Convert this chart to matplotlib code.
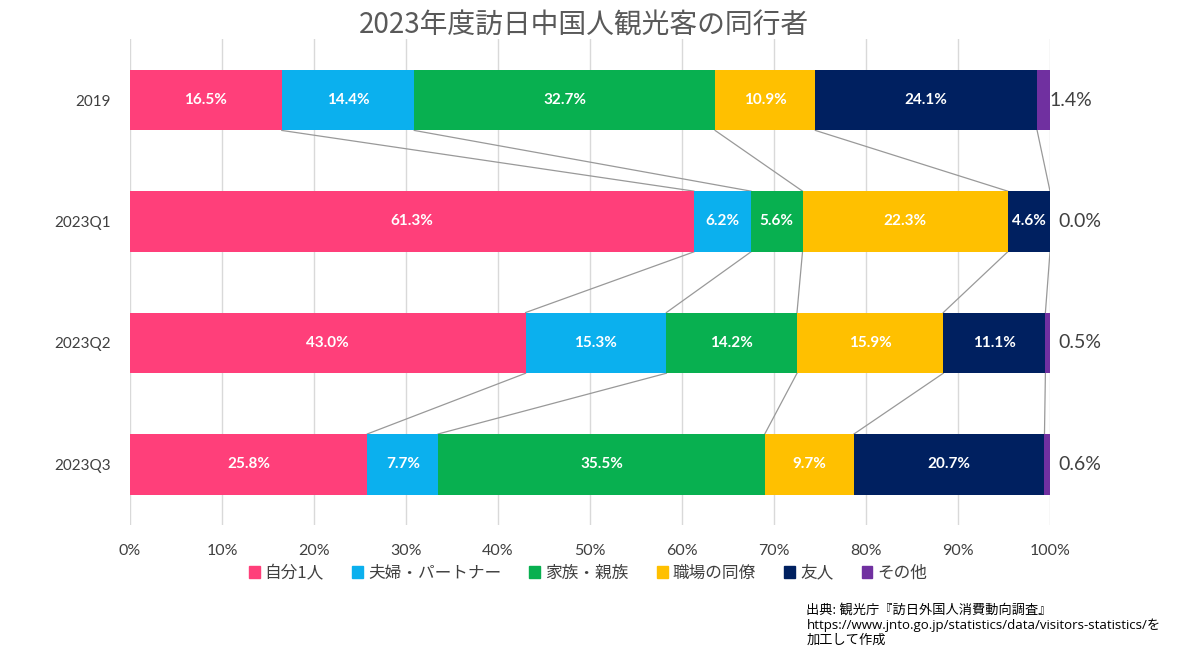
import matplotlib.pyplot as plt
import numpy as np

plt.rcParams['font.family'] = ['Lato', 'Noto Sans CJK JP', 'DejaVu Sans']

periods = ['2019', '2023Q1', '2023Q2', '2023Q3']
categories = ['自分1人', '夫婦・パートナー', '家族・親族', '職場の同僚', '友人', 'その他']
shares = {
    '自分1人':        [16.5, 61.3, 43.0, 25.8],
    '夫婦・パートナー': [14.4, 6.2, 15.3, 7.7],
    '家族・親族':      [32.7, 5.6, 14.2, 35.5],
    '職場の同僚':      [10.9, 22.3, 15.9, 9.7],
    '友人':           [24.1, 4.6, 11.1, 20.7],
    'その他':         [1.4, 0.0, 0.5, 0.6],
}
colors = ['#FF3F7A', '#0BB0EE', '#08B050', '#FFC000', '#002060', '#7030A0']

fig = plt.figure(figsize=(12, 6.5), dpi=100)
ax = fig.add_axes([0.1083, 0.1923, 0.7667, 0.7471])

y = np.arange(len(periods))
bar_h = 0.5
left = np.zeros(len(periods))
bounds = []
for cat, col in zip(categories, colors):
    vals = np.array(shares[cat])
    ax.barh(y, vals, left=left, height=bar_h, color=col, zorder=3)
    for i, v in enumerate(vals):
        if cat == 'その他':
            ax.text(99.9 if v > 1 else 100.9, y[i], f'{v:.1f}%', va='center', ha='left',
                    fontsize=14, color='#404040', zorder=5)
        else:
            ax.text(left[i] + v / 2, y[i], f'{v:.1f}%', va='center', ha='center',
                    fontsize=11, color='white', fontweight='bold', zorder=5)
    left = left + vals
    bounds.append(left.copy())

# series lines between bars
for b in bounds[:-1]:
    for i in range(len(periods) - 1):
        ax.plot([b[i], b[i + 1]], [y[i] + bar_h / 2, y[i + 1] - bar_h / 2],
                color='#999999', lw=0.9, zorder=2)

ax.set_xlim(0, 100)
ax.set_ylim(len(periods) - 0.5, -0.5)
ax.set_yticks(y)
ax.set_yticklabels(periods, fontsize=11, color='#404040')
ax.set_xticks(np.arange(0, 101, 10))
ax.set_xticklabels([f'{t}%' for t in range(0, 101, 10)], fontsize=11.5, color='#404040')
ax.tick_params(axis='y', length=0, pad=14)
ax.tick_params(axis='x', length=0, pad=14)
ax.grid(axis='x', color='#D9D9D9', lw=1, zorder=0)
for s in ax.spines.values():
    s.set_visible(False)

fig.suptitle('2023年度訪日中国人観光客の同行者', x=0.487, y=0.983, fontsize=20, color='#595959',
             family=['Noto Sans CJK JP', 'DejaVu Sans'])

handles = [plt.Rectangle((0, 0), 1, 1, color=c) for c in colors]
fig.legend(handles, categories, loc='center', bbox_to_anchor=(0.49, 0.118), ncol=6,
           frameon=False, handlelength=0.65, handleheight=0.65,
           handletextpad=0.3, columnspacing=1.7, labelcolor='#404040',
           prop={'family': ['Noto Sans CJK JP', 'DejaVu Sans'], 'size': 12})

fig.text(0.672, 0.038, '出典: 観光庁『訪日外国人消費動向調査』\n'
         'https://www.jnto.go.jp/statistics/data/visitors-statistics/を\n加工して作成',
         fontsize=9.5, color='black', va='center', ha='left', linespacing=1.15,
         family=['Open Sans', 'Noto Sans CJK JP', 'DejaVu Sans'])

fig.savefig('out.png', dpi=100)
